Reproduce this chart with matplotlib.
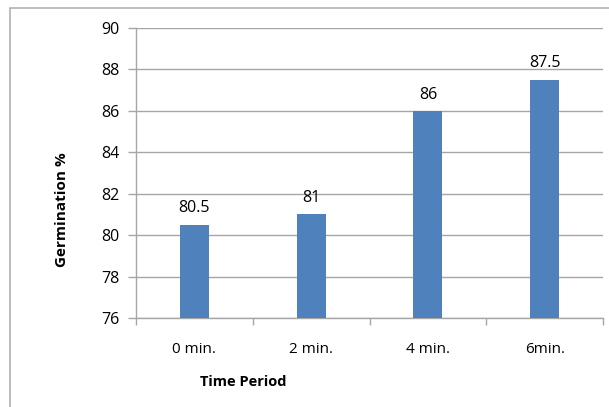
import matplotlib
matplotlib.use("Agg")
import matplotlib.pyplot as plt
from matplotlib.patches import Rectangle

categories = ["0 min.", "2 min.", "4 min.", "6min."]
values = [80.5, 81, 86, 87.5]
yticks = [76, 78, 80, 82, 84, 86, 88, 90]

plt.rcParams['font.family'] = ['Open Sans', 'DejaVu Sans']

W, H = 609, 407
fig = plt.figure(figsize=(W / 100, H / 100), dpi=100)
ax = fig.add_axes([136 / W, 1 - 318 / H, (603 - 136) / W, (318 - 28) / H])

# outer border (left and top visible)
fig.patches.append(Rectangle((10 / W, -0.1), 1.2, (H - 8) / H + 0.1, transform=fig.transFigure,
                             fill=False, edgecolor='#b0b0b0', linewidth=1.2))

x = list(range(len(categories)))
ax.bar(x, values, width=0.25, color='#4F81BD', zorder=3)
for xi, v in zip(x, values):
    ax.annotate(f"{v:g}", (xi, v), xytext=(0, 6), textcoords='offset points',
                ha='center', va='bottom', fontsize=11.5, color='#000000')

ax.set_xlim(-0.5, len(categories) - 0.5)
ax.set_ylim(76, 90)
ax.set_yticks(yticks)
ax.yaxis.grid(True, color='#a6a6a6', linewidth=1.0, zorder=0)
ax.set_xticks(x)
ax.set_xticklabels(categories, fontsize=11)
ax.set_xticks([i - 0.5 for i in range(len(categories) + 1)], minor=True)
ax.tick_params(axis='x', which='major', length=0, pad=17)
ax.tick_params(axis='x', which='minor', length=5, color='#a6a6a6', width=1)
ax.tick_params(axis='y', length=6, color='#a6a6a6', width=1, labelsize=11.5, pad=6)

for s in ['top', 'right']:
    ax.spines[s].set_visible(False)
for s in ['left', 'bottom']:
    ax.spines[s].set_color('#a6a6a6')
    ax.spines[s].set_linewidth(1.0)

fig.text(62 / W, 1 - 210 / H, "Germination %", rotation=90, ha='center', va='center',
         fontsize=11, fontweight='bold')
fig.text(243 / W, 1 - 382 / H, "Time Period", ha='center', va='center',
         fontsize=10.5, fontweight='bold')

fig.savefig("out.png", dpi=100)
